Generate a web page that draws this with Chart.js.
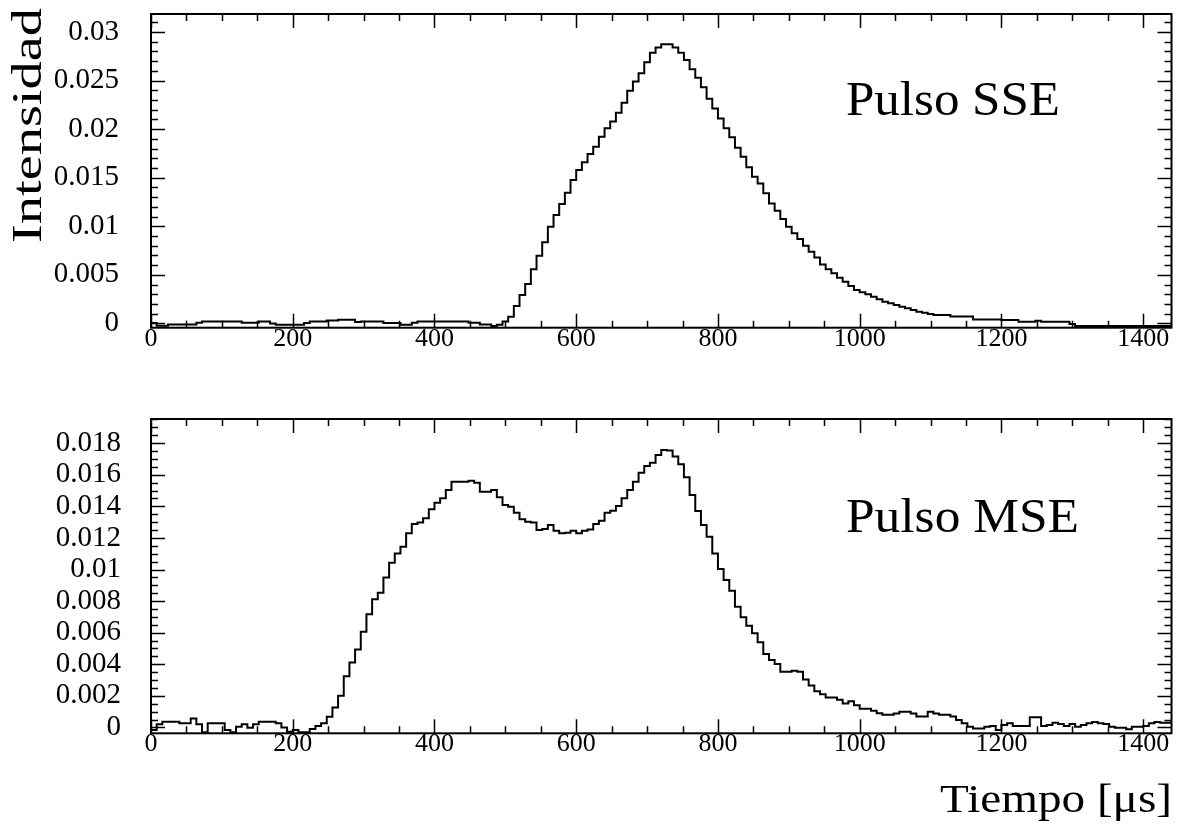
<!DOCTYPE html>
<html>
<head>
<meta charset="utf-8">
<script src="https://cdn.jsdelivr.net/npm/chart.js@4.4.1/dist/chart.umd.min.js"></script>
<style>
  html, body { margin: 0; padding: 0; background: #fff; }
  #wrap { position: relative; width: 1179px; height: 831px; }
  canvas { position: absolute; left: 0; }
  #sse { top: 0; }
  #mse { top: 372px; }
</style>
</head>
<body>
<div id="wrap">
  <canvas id="sse" width="1179" height="372"></canvas>
  <canvas id="mse" width="1179" height="459"></canvas>
</div>
<script>
// 180 bins of 8 us, from 0 to 1440 us
const binWidth = 8;
const nBins = 180;

const xTicks = [0, 200, 400, 600, 800, 1000, 1200, 1400];
const sseTicks = [0, 0.005, 0.01, 0.015, 0.02, 0.025, 0.03];
const mseTicks = [0, 0.002, 0.004, 0.006, 0.008, 0.01, 0.012, 0.014, 0.016, 0.018];

// single-electron pulse (SSE)
const sseValues = [
  0.00005, -0.00023, -0.00023, -0.0001, -0.0001, -0.0001, -0.0001, -0.0001, 0.00008, 0.0002,
  0.0002, 0.0002, 0.0002, 0.0002, 0.0002, 0.0002, 0.00008, 0.00008, 0.00008, 0.0002,
  0.0002, 0.0, -0.00013, -0.00013, -0.00013, -0.00013, -0.00013, 0.00004, 0.0002, 0.0002,
  0.0002, 0.0003, 0.0003, 0.00038, 0.00038, 0.00038, 0.00014, 0.0002, 0.0002, 0.0002,
  0.0002, 0.00004, 0.00004, 0.00004, -0.00013, -0.00013, 0.00008, 0.0002, 0.0002, 0.0002,
  0.0002, 0.0002, 0.0002, 0.0002, 0.0002, 0.0002, 0.00008, 0.00008, -0.0001, -0.0001,
  -0.00027, -0.00013, 0.0002, 0.0007, 0.00179, 0.00292, 0.00406, 0.00557, 0.00698, 0.00835,
  0.00996, 0.01116, 0.01229, 0.01346, 0.01477, 0.0158, 0.01659, 0.01745, 0.0182, 0.01923,
  0.02009, 0.02078, 0.0217, 0.02273, 0.02397, 0.0249, 0.02576, 0.02689, 0.02788, 0.0284,
  0.02874, 0.02874, 0.0284, 0.02788, 0.02712, 0.02616, 0.0253, 0.02431, 0.02314, 0.02214,
  0.02111, 0.02009, 0.01916, 0.0181, 0.01717, 0.01607, 0.01511, 0.01442, 0.0134, 0.01236,
  0.01161, 0.01075, 0.00996, 0.00928, 0.00869, 0.008, 0.00739, 0.0068, 0.00608, 0.00557,
  0.00516, 0.00471, 0.0043, 0.00385, 0.00344, 0.0032, 0.003, 0.00275, 0.00248, 0.00224,
  0.00207, 0.0019, 0.00172, 0.00155, 0.00138, 0.00121, 0.00111, 0.00097, 0.00087, 0.00087,
  0.00087, 0.00072, 0.00072, 0.00072, 0.00072, 0.0004, 0.0004, 0.0004, 0.0004, 0.0004,
  0.00035, 0.00035, 0.00035, 0.00018, 0.00018, 0.00018, 0.00028, 0.00018, 0.00018, 0.00018,
  0.00018, 0.00018, -0.00006, -0.00027, -0.00027, -0.00027, -0.00027, -0.00027, -0.00027, -0.00027,
  -0.00027, -0.00027, -0.00027, -0.00027, -0.00027, -0.00027, -0.00027, -0.00027, -0.00027, -0.00027
];

// multiple-electron pulse (MSE)
const mseValues = [
  -0.00016, 0.0002, 0.00036, 0.00036, 0.00036, 0.00026, 0.00026, 0.00057, 0.0002, -0.0003,
  0.00026, 0.00026, 0.00026, -0.00016, -0.0003, 0.00005, 0.0002, -0.00002, 0.0002, 0.00036,
  0.00036, 0.00036, 0.00026, 0.0, -0.00027, -0.00016, -0.0003, -0.0003, -0.0001, 0.0001,
  0.00026, 0.00068, 0.00126, 0.002, 0.00325, 0.00412, 0.00494, 0.00606, 0.00716, 0.00811,
  0.00853, 0.0095, 0.01043, 0.01102, 0.01144, 0.01229, 0.01288, 0.01297, 0.01324, 0.01381,
  0.01423, 0.01451, 0.01504, 0.01556, 0.01556, 0.01556, 0.01562, 0.0155, 0.01493, 0.01493,
  0.01504, 0.01457, 0.01409, 0.01398, 0.0136, 0.01318, 0.01303, 0.01297, 0.0125, 0.01256,
  0.01282, 0.01246, 0.01229, 0.01233, 0.01246, 0.01229, 0.01246, 0.01254, 0.01288, 0.01309,
  0.0136, 0.01372, 0.01402, 0.01451, 0.01504, 0.01556, 0.01613, 0.01655, 0.01676, 0.01725,
  0.01757, 0.01753, 0.01715, 0.01666, 0.01584, 0.01472, 0.0137, 0.01282, 0.01208, 0.01102,
  0.01003, 0.00933, 0.00866, 0.00765, 0.00697, 0.00644, 0.00596, 0.00539, 0.00465, 0.00427,
  0.00401, 0.00353, 0.00353, 0.00359, 0.00353, 0.00304, 0.00265, 0.0023, 0.0021, 0.0019,
  0.0019, 0.00175, 0.00152, 0.00166, 0.0014, 0.00118, 0.00118, 0.00105, 0.0009, 0.0008,
  0.0008, 0.00088, 0.001, 0.001, 0.00088, 0.0007, 0.0007, 0.001, 0.00088, 0.0008,
  0.0008, 0.0007, 0.00047, 0.00026, 0.00005, -0.00006, -0.00006, 0.00005, 0.00009, -0.00016,
  0.00015, 0.00026, 0.00009, 0.00009, 0.00009, 0.00064, 0.00064, 0.00009, 0.00015, 0.0003,
  0.00022, 0.00009, 0.00022, 0.00005, 0.00015, 0.00026, 0.00034, 0.00026, 0.00022, 0.00005,
  -0.00002, -0.00002, -0.00012, 0.00005, 0.00005, 0.00009, 0.00026, 0.00034, 0.0003, 0.0003
];

const serif = '"Liberation Serif", "Times New Roman", serif';

// histogram outline: one point per bin's left edge, plus the closing edge
function histPoints(values) {
  const pts = values.map((v, i) => ({ x: i * binWidth, y: v }));
  pts.push({ x: nBins * binWidth, y: values[values.length - 1] });
  return pts;
}

// keep the plot frame exactly where the layout puts it
function noScalePadding(s) {
  s.paddingTop = 0;
  s.paddingBottom = 0;
  s.paddingLeft = 0;
  s.paddingRight = 0;
}

// frame with inward ticks on all four sides, and free text drawn on top
const rootFrame = {
  id: 'rootFrame',
  afterDatasetsDraw(chart, args, opts) {
    const { ctx, chartArea: a, scales } = chart;
    const x = scales.x, y = scales.y;
    ctx.save();
    ctx.strokeStyle = '#000';
    ctx.lineWidth = 1.5;
    ctx.beginPath();
    for (let k = 0; k * opts.minorX <= x.max; k++) {
      const px = Math.round(x.getPixelForValue(k * opts.minorX)) + 0.5;
      const len = k % opts.perX === 0 ? 14 : 7;
      ctx.moveTo(px, a.bottom); ctx.lineTo(px, a.bottom - len);
      ctx.moveTo(px, a.top); ctx.lineTo(px, a.top + len);
    }
    for (let k = Math.ceil(y.min / opts.minorY); k * opts.minorY <= y.max + 1e-12; k++) {
      const py = Math.round(y.getPixelForValue(k * opts.minorY)) + 0.5;
      const len = ((k % opts.perY) + opts.perY) % opts.perY === 0 ? 14 : 7;
      ctx.moveTo(a.left, py); ctx.lineTo(a.left + len, py);
      ctx.moveTo(a.right, py); ctx.lineTo(a.right - len, py);
    }
    ctx.stroke();
    ctx.lineWidth = 2;
    ctx.strokeRect(a.left, a.top, a.width, a.height);

    ctx.fillStyle = '#000';
    ctx.textAlign = 'left';
    ctx.textBaseline = 'alphabetic';
    (opts.texts || []).forEach((t) => {
      ctx.save();
      ctx.font = t.size + 'px ' + serif;
      const natural = ctx.measureText(t.text).width;
      if (t.rotate) {
        ctx.translate(t.base, t.end);
        ctx.rotate(-Math.PI / 2);
        ctx.scale((t.end - t.start) / natural, 1);
      } else {
        ctx.translate(t.start, t.base);
        ctx.scale((t.end - t.start) / natural, 1);
      }
      ctx.fillText(t.text, 0, 0);
      ctx.restore();
    });
    ctx.restore();
  }
};

function makePanel(id, values, yMin, yMax, yTicks, box, frameOpts) {
  const canvas = document.getElementById(id);
  return new Chart(canvas, {
    type: 'line',
    data: {
      datasets: [{
        data: histPoints(values),
        borderColor: '#000',
        borderWidth: 2,
        pointRadius: 0,
        stepped: true,
        fill: false
      }]
    },
    options: {
      responsive: false,
      animation: false,
      devicePixelRatio: 1,
      layout: { padding: { top: box.top, right: canvas.width - box.right, left: 0, bottom: 0 } },
      plugins: {
        legend: { display: false },
        tooltip: { enabled: false },
        rootFrame: frameOpts
      },
      scales: {
        x: {
          type: 'linear',
          min: 0,
          max: nBins * binWidth,
          grid: { display: false, drawTicks: false },
          border: { display: false },
          afterBuildTicks: (s) => { s.ticks = xTicks.map((v) => ({ value: v })); },
          afterFit: (s) => { s.height = canvas.height - box.bottom; noScalePadding(s); },
          ticks: {
            color: '#000',
            padding: -2,
            maxRotation: 0,
            autoSkip: false,
            font: { family: serif, size: 26, lineHeight: 1 },
            callback: (v) => String(v)
          }
        },
        y: {
          type: 'linear',
          min: yMin,
          max: yMax,
          grid: { display: false, drawTicks: false },
          border: { display: false },
          afterBuildTicks: (s) => { s.ticks = yTicks.map((v) => ({ value: v })); },
          afterFit: (s) => { s.width = box.left; noScalePadding(s); },
          ticks: {
            color: '#000',
            padding: box.labelGap,
            autoSkip: false,
            font: { family: serif, size: 29, lineHeight: 1 },
            callback: (v) => String(+v.toFixed(4))
          }
        }
      }
    },
    plugins: [rootFrame]
  });
}

makePanel('sse', sseValues, -0.00044, 0.03186, sseTicks,
  { left: 151, right: 1171.5, top: 14, bottom: 327.7, labelGap: 32 },
  {
    minorX: 50, perX: 4, minorY: 0.001, perY: 5,
    texts: [
      { text: 'Pulso SSE', start: 846, end: 1060, base: 115, size: 48 },
      { text: 'Intensidad', rotate: true, start: 8, end: 243, base: 41, size: 42 }
    ]
  });

makePanel('mse', mseValues, -0.00037, 0.01953, mseTicks,
  { left: 151, right: 1171.5, top: 47, bottom: 361.3, labelGap: 30 },
  {
    minorX: 50, perX: 4, minorY: 0.0005, perY: 4,
    texts: [
      { text: 'Pulso MSE', start: 846, end: 1079, base: 160, size: 48 },
      { text: 'Tiempo [μs]', start: 940, end: 1172, base: 440, size: 40 }
    ]
  });
</script>
</body>
</html>
